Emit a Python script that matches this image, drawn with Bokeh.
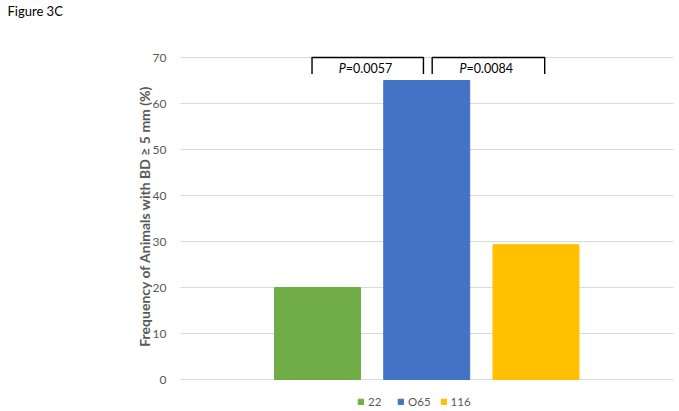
from bokeh.plotting import figure
from bokeh.models import ColumnDataSource, FixedTicker, Legend, LegendItem, Title
from bokeh.core.properties import value
from bokeh.embed import file_html
from bokeh.resources import INLINE

# ---- data ----
groups = ["22", "O65", "116"]
freq = [20.0, 65.0, 29.3]
colors = ["#70AD47", "#4472C4", "#FFC000"]
y_ticks = [0, 10, 20, 30, 40, 50, 60, 70]
comparisons = [(0, 1), (1, 2)]
p_values = ["=0.0057", "=0.0084"]
y_label = "Frequency of Animals with BD \u2265 5 mm (%)"
title = "Figure 3C"

FONT = "Lato"
GREY = "#595959"

W, H = 679, 411
TOP = 20                      # frame top (title panel above it)
FL, Y70, Y0 = 180, 57, 379    # plot-area left, page y of 70 and of 0
PX_PER_UNIT = (Y0 - Y70) / 70.0

idx = list(range(len(groups)))
src = ColumnDataSource(dict(x=idx, top=freq, color=colors, label=groups))

p = figure(width=W, height=H, output_backend="svg", toolbar_location=None,
           x_range=(-1.254, 3.259),
           y_range=(-(H - Y0) / PX_PER_UNIT, 70 + (Y70 - TOP) / PX_PER_UNIT),
           x_axis_location=None,
           min_border_left=FL, min_border_right=6, min_border_top=TOP, min_border_bottom=0)
p.outline_line_color = None
p.background_fill_color = "white"
p.border_fill_color = "white"

r = p.vbar(x="x", top="top", width=0.787, color="color", source=src)

p.xgrid.visible = False
p.ygrid.grid_line_color = "#D9D9D9"
p.ygrid.grid_line_width = 1
p.ygrid.ticker = FixedTicker(ticks=y_ticks)
p.yaxis.ticker = FixedTicker(ticks=y_ticks)
p.yaxis.axis_line_color = None
p.yaxis.major_tick_line_color = None
p.yaxis.minor_tick_line_color = None
p.yaxis.major_tick_out = 0
p.yaxis.major_label_standoff = 14
p.yaxis.major_label_text_font = FONT
p.yaxis.major_label_text_font_size = "12px"
p.yaxis.major_label_text_color = GREY
p.yaxis.axis_label = y_label
p.yaxis.axis_label_text_font = FONT
p.yaxis.axis_label_text_font_size = "14px"
p.yaxis.axis_label_text_font_style = "bold"
p.yaxis.axis_label_text_color = GREY
p.yaxis.axis_label_standoff = -3

# ---- title (panel above the plot area, shifted to the page's left edge) ----
p.add_layout(Title(text=title, align="left", offset=7 - FL, standoff=0,
                   vertical_align="top", text_font=FONT, text_font_size="13px",
                   text_font_style="normal", text_color="black"), "above")

# ---- significance brackets ----
lo_off = [-0.05, 0.05]
hi_off = [-0.03, 0.08]
top_y, low_y, txt_y = 70, 66.4, 67.6
xs, ys, mids = [], [], []
for k, (a, b) in enumerate(comparisons):
    l, rr = a + lo_off[k], b + hi_off[k]
    xs.append([l, l, rr, rr])
    ys.append([low_y, top_y, top_y, low_y])
    mids.append((l + rr) / 2)
p.multi_line(xs=xs, ys=ys, line_color="black", line_width=1.4, line_join="round")
p.text(x=mids, y=[txt_y] * len(mids), text=["P"] * len(mids), text_align="right",
       x_offset=-22, text_baseline="alphabetic", text_font=value(FONT),
       text_font_style="italic", text_font_size="12.5px", text_color="black")
p.text(x=mids, y=[txt_y] * len(mids), text=p_values, text_align="left",
       x_offset=-22, text_baseline="alphabetic", text_font=value(FONT),
       text_font_size="12.5px", text_color="black")

# ---- legend (inside the plot area, which reaches the bottom edge) ----
items = [LegendItem(label=g, renderers=[r], index=i) for i, g in enumerate(groups)]
leg = Legend(items=items, orientation="horizontal", location=(177, 3),
             glyph_width=7, glyph_height=7, label_standoff=4, spacing=9,
             padding=0, margin=0, border_line_color=None, background_fill_alpha=0,
             label_text_font=FONT, label_text_font_size="11.5px", label_text_color=GREY)
p.add_layout(leg, "center")

open("out.html", "w").write(file_html(p, INLINE))
